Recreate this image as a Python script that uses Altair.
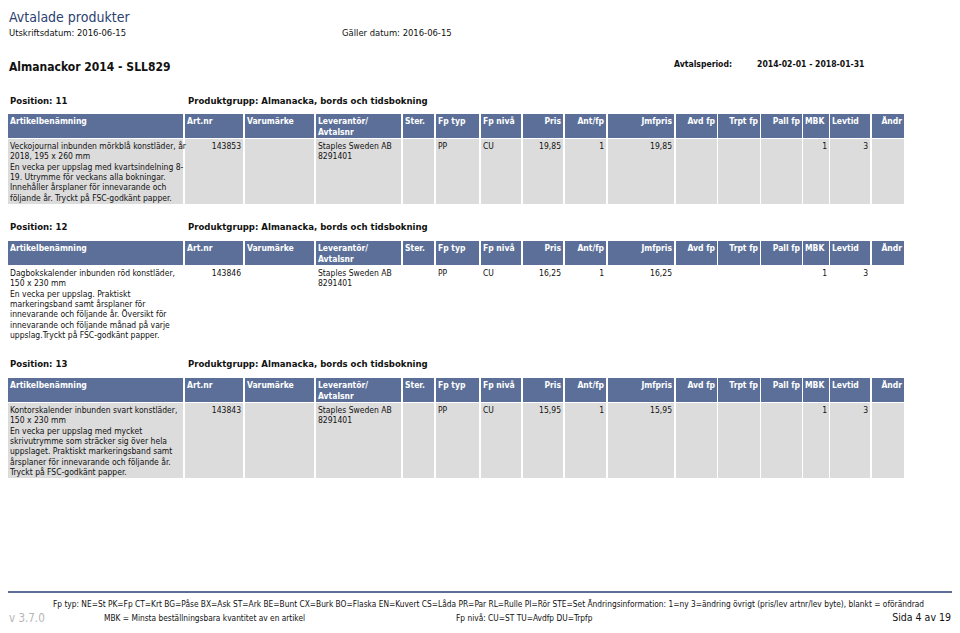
import altair as alt
import pandas as pd

# ---------------- data ----------------
report_title = "Avtalade produkter"
print_date = "Utskriftsdatum: 2016-06-15"
valid_date = "Gäller datum: 2016-06-15"
agreement = "Almanackor 2014 - SLL829"
period_label = "Avtalsperiod:"
period_value = "2014-02-01 - 2018-01-31"

positions = ["11", "12", "13"]
product_groups = ["Almanacka, bords och tidsbokning"] * 3

column_names = ["Artikelbenämning", "Art.nr", "Varumärke", "Leverantör/\nAvtalsnr", "Ster.",
                "Fp typ", "Fp nivå", "Pris", "Ant/fp", "Jmfpris", "Avd fp", "Trpt fp",
                "Pall fp", "MBK", "Levtid", "Ändr"]

descriptions = [
    "Veckojournal inbunden mörkblå konstläder, år\n2018, 195 x 260 mm\nEn vecka per uppslag med kvartsindelning 8-\n19. Utrymme för veckans alla bokningar.\nInnehåller årsplaner för innevarande och\nföljande år. Tryckt på FSC-godkänt papper.",
    "Dagbokskalender inbunden röd konstläder,\n150 x 230 mm\nEn vecka per uppslag. Praktiskt\nmarkeringsband samt årsplaner för\ninnevarande och följande år.  Översikt för\ninnevarande och följande månad på varje\nuppslag.Tryckt på FSC-godkänt papper.",
    "Kontorskalender inbunden svart konstläder,\n150 x 230 mm\nEn vecka per uppslag med mycket\nskrivutrymme som sträcker sig över hela\nuppslaget. Praktiskt markeringsband samt\nårsplaner för innevarande och följande år.\nTryckt på FSC-godkänt papper.",
]
art_nr = ["143853", "143846", "143843"]
varumarke = ["", "", ""]
leverantor = ["Staples Sweden AB\n8291401"] * 3
ster = ["", "", ""]
fp_typ = ["PP", "PP", "PP"]
fp_niva = ["CU", "CU", "CU"]
pris = ["19,85", "16,25", "15,95"]
ant_fp = ["1", "1", "1"]
jmfpris = ["19,85", "16,25", "15,95"]
avd_fp = ["", "", ""]
trpt_fp = ["", "", ""]
pall_fp = ["", "", ""]
mbk = ["1", "1", "1"]
levtid = ["3", "3", "3"]
andr = ["", "", ""]

footer_fp_typ = ("Fp typ: NE=St PK=Fp CT=Krt BG=Påse BX=Ask ST=Ark BE=Bunt CX=Burk BO=Flaska "
                 "EN=Kuvert CS=Låda PR=Par RL=Rulle PI=Rör STE=Set Ändringsinformation: 1=ny "
                 "3=ändring övrigt (pris/lev artnr/lev byte), blankt = oförändrad")
footer_mbk = "MBK = Minsta beställningsbara kvantitet av en artikel"
footer_fp_niva = "Fp nivå: CU=ST TU=Avdfp DU=Trpfp"
version = "v 3.7.0"
page_no = "Sida 4 av 19"

# ---------------- layout ----------------
W, H = 944, 617
FONT = "DejaVu Sans Condensed"
HEADER_BG = "#5b6f98"
BODY_BG = "#dcdcdc"
INK = "#111111"

col_left = [8, 185, 245, 316, 403, 436, 481, 523, 565, 608, 676, 718, 761, 803, 830, 872]
col_right = [183, 243, 314, 401, 434, 479, 521, 563, 606, 674, 717, 760, 802, 829, 870, 904]
header_align = ["left", "left", "left", "left", "left", "left", "left", "right", "right",
                "right", "right", "right", "right", "left", "left", "right"]
value_align = ["left", "right", "left", "left", "left", "left", "left", "right", "right",
               "right", "right", "right", "right", "right", "right", "right"]

label_y = [101, 227, 364]
header_top = [114, 241, 378]
header_bot = [138, 265, 402]
body_top = [139, 266, 403]
body_bot = [204, 340, 478]
body_fill = [BODY_BG, "#ffffff", BODY_BG]

xs = alt.Scale(domain=[8, 8 + W], nice=False, zero=False)
ys = alt.Scale(domain=[8, 8 + H], nice=False, zero=False, reverse=True)


def text_layer(rows, **kw):
    df = pd.DataFrame(rows, columns=["x", "y", "t"])
    return alt.Chart(df).mark_text(font=FONT, **kw).encode(
        x=alt.X("x:Q", scale=xs, axis=None),
        y=alt.Y("y:Q", scale=ys, axis=None),
        text="t:N",
    )


# ---- rectangles ----
rect_rows = []
for s in range(3):
    for c in range(len(column_names)):
        rect_rows.append([col_left[c], col_right[c], header_top[s], header_bot[s], HEADER_BG])
        rect_rows.append([col_left[c], col_right[c], body_top[s], body_bot[s], body_fill[s]])
rect_df = pd.DataFrame(rect_rows, columns=["x", "x2", "y", "y2", "c"])
rects = alt.Chart(rect_df).mark_rect().encode(
    x=alt.X("x:Q", scale=xs, axis=None), x2="x2:Q",
    y=alt.Y("y:Q", scale=ys, axis=None), y2="y2:Q",
    color=alt.Color("c:N", scale=None),
)

line_df = pd.DataFrame({"x": [8], "x2": [8 + W], "y": [592]})
footer_line = alt.Chart(line_df).mark_rule(color="#5d6f96", strokeWidth=2).encode(
    x=alt.X("x:Q", scale=xs, axis=None), x2="x2:Q",
    y=alt.Y("y:Q", scale=ys, axis=None),
)

# ---- texts ----
layers = [rects, footer_line]

layers.append(text_layer([[9, 18, report_title]], align="left", baseline="middle",
                         fontSize=14, color="#2c4170"))
layers.append(text_layer([[9, 33, print_date], [342, 33, valid_date]], align="left",
                         baseline="middle", fontSize=9.4, color=INK))
layers.append(text_layer([[9, 67, agreement]], align="left", baseline="middle",
                         fontSize=12, fontWeight="bold", color=INK))
layers.append(text_layer([[674, 64, period_label], [757, 64, period_value]], align="left",
                         baseline="middle", fontSize=8.6, fontWeight="bold", color=INK))

label_rows = []
for s in range(3):
    label_rows.append([10, label_y[s], "Position: " + positions[s]])
    label_rows.append([188, label_y[s], "Produktgrupp: " + product_groups[s]])
layers.append(text_layer(label_rows, align="left", baseline="middle", fontSize=9.5,
                         fontWeight="bold", color=INK))

values_by_col = [descriptions, art_nr, varumarke, leverantor, ster, fp_typ, fp_niva, pris,
                 ant_fp, jmfpris, avd_fp, trpt_fp, pall_fp, mbk, levtid, andr]

for align in ["left", "right"]:
    hrows, brows = [], []
    for s in range(3):
        for c, name in enumerate(column_names):
            if header_align[c] == align:
                hx = col_left[c] + 2 if align == "left" else col_right[c] - 2
                hrows.append([hx, header_top[s] + 3, name])
            if value_align[c] == align:
                v = values_by_col[c][s]
                if v:
                    bx = col_left[c] + 2 if align == "left" else col_right[c] - 2
                    brows.append([bx, body_top[s] + 3, v])
    layers.append(text_layer(hrows, align=align, baseline="top", fontSize=8.5,
                             fontWeight="bold", color="#ffffff", lineBreak="\n", lineHeight=10.5))
    layers.append(text_layer(brows, align=align, baseline="top", fontSize=8.5,
                             color=INK, lineBreak="\n", lineHeight=10.3))

layers.append(text_layer([[53, 605, footer_fp_typ]], align="left", baseline="middle",
                         fontSize=8.3, color=INK))
layers.append(text_layer([[104, 619, footer_mbk], [456, 619, footer_fp_niva]], align="left",
                         baseline="middle", fontSize=8.3, color=INK))
layers.append(text_layer([[9, 619, version]], align="left", baseline="middle",
                         fontSize=11.5, color="#b5b5b5"))
layers.append(text_layer([[951, 618, page_no]], align="right", baseline="middle",
                         fontSize=10.5, color=INK))

chart = alt.layer(*layers).properties(
    width=W, height=H, padding=0, autosize=alt.AutoSizeParams(type="none")
).configure_view(stroke=None)

chart.save("out.html", embed_options={"renderer": "svg", "actions": False})
